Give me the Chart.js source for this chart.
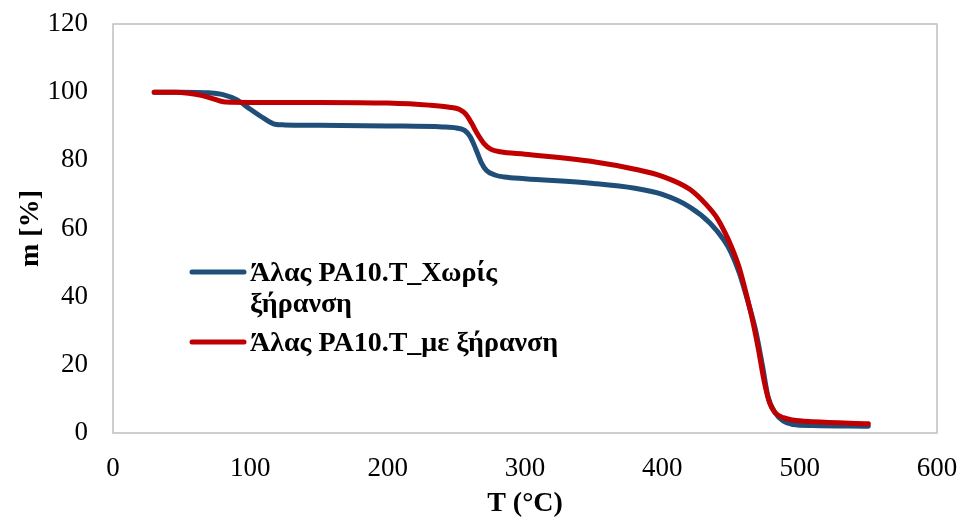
<!DOCTYPE html>
<html lang="el">
<head>
<meta charset="utf-8" />
<title>TGA PA10.T</title>
<script src="https://cdn.jsdelivr.net/npm/chart.js@4.4.1/dist/chart.umd.min.js"></script>
<style>
  html, body { margin: 0; padding: 0; background: #fff; }
  #wrap { width: 962px; height: 521px; }
</style>
</head>
<body>
<div id="wrap"><canvas id="tga"></canvas></div>
<script>
// Θερμοκρασία (°C) και μάζα (%) για κάθε δείγμα
const tempDry0 = [30, 50, 70, 80, 90, 100, 110, 118, 125, 150, 200, 240, 250, 256, 260, 264, 268, 272, 278, 285, 300, 350, 380, 400, 420, 435, 445, 450, 456, 462, 468, 473, 477, 482, 488, 495, 510, 550];
const massDry0 = [100, 100, 99.8, 99.3, 97.8, 95, 92.3, 90.6, 90.4, 90.3, 90.1, 89.8, 89.5, 88.8, 87, 83.5, 79.5, 77, 75.7, 75.1, 74.6, 73.2, 71.8, 70, 66.3, 61.5, 56.5, 53, 47, 39, 30, 19.5, 10.5, 6, 3.5, 2.5, 2.2, 2.0];

const tempDry1 = [30, 45, 55, 65, 72, 78, 82, 100, 150, 200, 230, 245, 252, 257, 261, 265, 270, 275, 282, 300, 350, 380, 400, 420, 432, 440, 446, 451, 456, 461, 466, 470, 474, 478, 482, 488, 495, 510, 550];
const massDry1 = [100, 100, 99.7, 99, 98.2, 97.4, 97.1, 97, 97, 96.8, 96.2, 95.6, 95, 93.5, 91, 88, 85, 83.3, 82.5, 81.8, 79.6, 77.4, 75.3, 71.5, 67, 63, 58.5, 54, 48.5, 41, 32.5, 24.5, 15.5, 9, 6, 4.5, 3.8, 3.3, 2.7];

const xTicks = [0, 100, 200, 300, 400, 500, 600];
const yTicks = [0, 20, 40, 60, 80, 100, 120];

const labelDry0 = ["Άλας PA10.T_Χωρίς", "ξήρανση"];
const labelDry1 = ["Άλας PA10.T_με ξήρανση"];

const serif = "'Liberation Serif', 'Times New Roman', serif";

function pts(xs, ys) {
  return xs.map((x, i) => ({ x: x, y: ys[i] }));
}

// σταθερό μέγεθος άξονα, χωρίς το επιπλέον περιθώριο για τις ετικέτες των άκρων
function fixScale(size) {
  return s => {
    if (s.isHorizontal()) s.height = size; else s.width = size;
    s.paddingTop = s.paddingBottom = s.paddingLeft = s.paddingRight = 0;
  };
}

// γκρι πλαίσιο γύρω από την περιοχή σχεδίασης
const framePlugin = {
  id: "frame",
  beforeDatasetsDraw(chart) {
    const a = chart.chartArea;
    const ctx = chart.ctx;
    ctx.save();
    ctx.strokeStyle = "#bfbfbf";
    ctx.lineWidth = 1.5;
    ctx.strokeRect(a.left, a.top, a.right - a.left, a.bottom - a.top);
    ctx.restore();
  }
};

// υπόμνημα μέσα στο διάγραμμα, με αναδίπλωση κειμένου
const legendPlugin = {
  id: "inlineLegend",
  afterDraw(chart) {
    const ctx = chart.ctx;
    const rows = [
      { ds: chart.data.datasets[1], y: 272 },
      { ds: chart.data.datasets[0], y: 342 }
    ];
    ctx.save();
    ctx.font = "bold 28px " + serif;
    ctx.fillStyle = "#000";
    ctx.textBaseline = "middle";
    rows.forEach(r => {
      ctx.strokeStyle = r.ds.borderColor;
      ctx.lineWidth = 5;
      ctx.lineCap = "round";
      ctx.beginPath();
      ctx.moveTo(192, r.y);
      ctx.lineTo(244, r.y);
      ctx.stroke();
      r.ds.legendText.forEach((t, i) => {
        ctx.fillText(t, 250, r.y + 2 + i * 31);
      });
    });
    ctx.restore();
  }
};

new Chart(document.getElementById("tga"), {
  type: "line",
  data: {
    datasets: [
      {
        label: labelDry1.join(" "),
        legendText: labelDry1,
        data: pts(tempDry1, massDry1),
        borderColor: "#c00000",
        borderWidth: 5,
        borderCapStyle: "round",
        pointRadius: 0,
        cubicInterpolationMode: "monotone",
        order: 0
      },
      {
        label: labelDry0.join(" "),
        legendText: labelDry0,
        data: pts(tempDry0, massDry0),
        borderColor: "#1f4e79",
        borderWidth: 5,
        borderCapStyle: "round",
        pointRadius: 0,
        cubicInterpolationMode: "monotone",
        order: 1
      }
    ]
  },
  options: {
    responsive: true,
    maintainAspectRatio: false,
    animation: false,
    events: [],
    layout: { padding: { left: 0, top: 24, right: 25, bottom: 0 } },
    plugins: {
      legend: { display: false },
      tooltip: { enabled: false }
    },
    scales: {
      x: {
        type: "linear",
        min: 0,
        max: 600,
        afterBuildTicks: s => { s.ticks = xTicks.map(v => ({ value: v })); },
        afterFit: fixScale(88),
        grid: { display: false, drawTicks: false },
        border: { display: false },
        ticks: { color: "#000", padding: 20, maxRotation: 0, font: { family: serif, size: 27 } },
        title: {
          display: true,
          text: "T (°C)",
          color: "#000",
          padding: { top: 0, bottom: 0 },
          font: { family: serif, size: 28, weight: "bold" }
        }
      },
      y: {
        min: 0,
        max: 120,
        afterBuildTicks: s => { s.ticks = yTicks.map(v => ({ value: v })); },
        afterFit: fixScale(113),
        grid: { display: false, drawTicks: false },
        border: { display: false },
        ticks: { color: "#000", padding: 25, font: { family: serif, size: 27 } },
        title: {
          display: true,
          text: "m [%]",
          color: "#000",
          padding: { top: 14, bottom: 0 },
          font: { family: serif, size: 28, weight: "bold" }
        }
      }
    }
  },
  plugins: [framePlugin, legendPlugin]
});
</script>
</body>
</html>
